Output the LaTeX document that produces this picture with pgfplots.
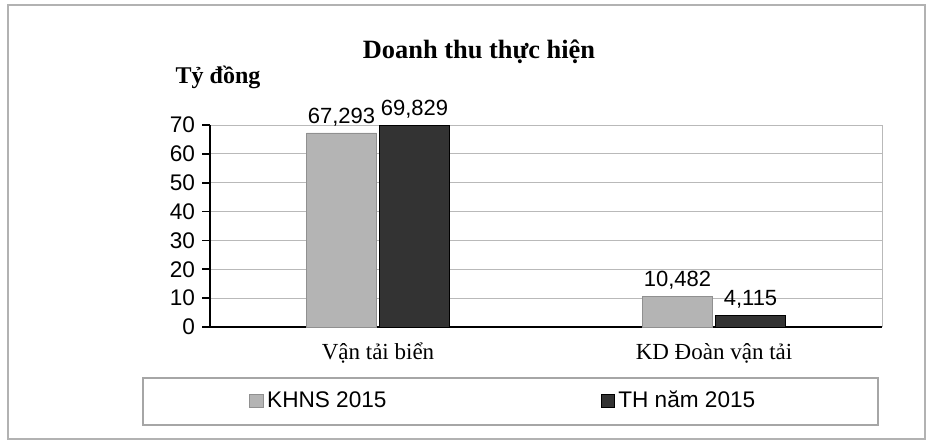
\documentclass[border=0pt]{standalone}
\usepackage{fontspec}
\setmainfont{Liberation Sans}
\newfontfamily\seriffont{Liberation Serif}
\usepackage{pgfplots}
\pgfplotsset{compat=1.18}
\definecolor{lightbar}{HTML}{B4B4B4}
\definecolor{darkbar}{HTML}{333333}
\begin{document}
\begin{tikzpicture}[x=1pt,y=1pt]
\path (0,0) rectangle (467.5,221);
\draw[gray!60, line width=0.6pt] (4,1.5) rectangle (462.5,218.5);
\begin{axis}[
  at={(105pt,57.5pt)}, anchor=south west,
  scale only axis, width=336pt, height=101pt,
  xmin=-0.5, xmax=1.5, ymin=0, ymax=70,
  ytick={0,10,...,70},
  xtick={0,1}, xticklabels={Vận tải biển, KD Đoàn vận tải},
  xticklabel style={font=\seriffont\fontsize{11.5}{13}\selectfont, yshift=-0.5pt},
  yticklabel style={font=\fontsize{11.3}{13}\selectfont},
  /pgf/number format/assume math mode=true,
  axis lines=left, axis line style={black, line width=1pt, -},
  tick align=outside, major tick length=4pt,
  ytick style={black, line width=0.8pt},
  xtick style={draw=none},
  ymajorgrids, grid style={gray!55, line width=0.5pt},
  ybar, bar width=35pt, ybar=1.5pt,
  nodes near coords={\pgfmathprintnumber[fixed,precision=3,fixed zerofill,use comma]{\pgfplotspointmeta}},
  nodes near coords style={font=\fontsize{11}{13}\selectfont, yshift=0pt},
  legend style={at={(0.058,-0.366)}, anchor=west, draw=none, fill=none, inner sep=0pt,
    font=\fontsize{11.3}{13}\selectfont, legend columns=2,
    /tikz/every even column/.append style={column sep=105pt}},
  legend image code/.code={\fill[#1] (0pt,-3.3pt) rectangle (6.6pt,3.3pt);},
  clip=false,
]
\addplot[fill=lightbar, draw=lightbar!80!black, line width=0.3pt] coordinates {(0,67.293) (1,10.482)};
\addplot[fill=darkbar, draw=black, line width=0.3pt] coordinates {(0,69.829) (1,4.115)};
\legend{KHNS 2015, TH năm 2015}
\draw[gray!55, line width=0.5pt] (rel axis cs:1,0) -- (rel axis cs:1,1);
\end{axis}
\draw[gray!70, line width=0.7pt] (71.5,8.5) rectangle (439,32);
\node[font=\seriffont\bfseries\fontsize{13.2}{16}\selectfont] at (239.5,195) {Doanh thu thực hiện};
\node[font=\seriffont\bfseries\fontsize{12}{14}\selectfont] at (109,182.5) {Tỷ đồng};
\end{tikzpicture}
\end{document}
